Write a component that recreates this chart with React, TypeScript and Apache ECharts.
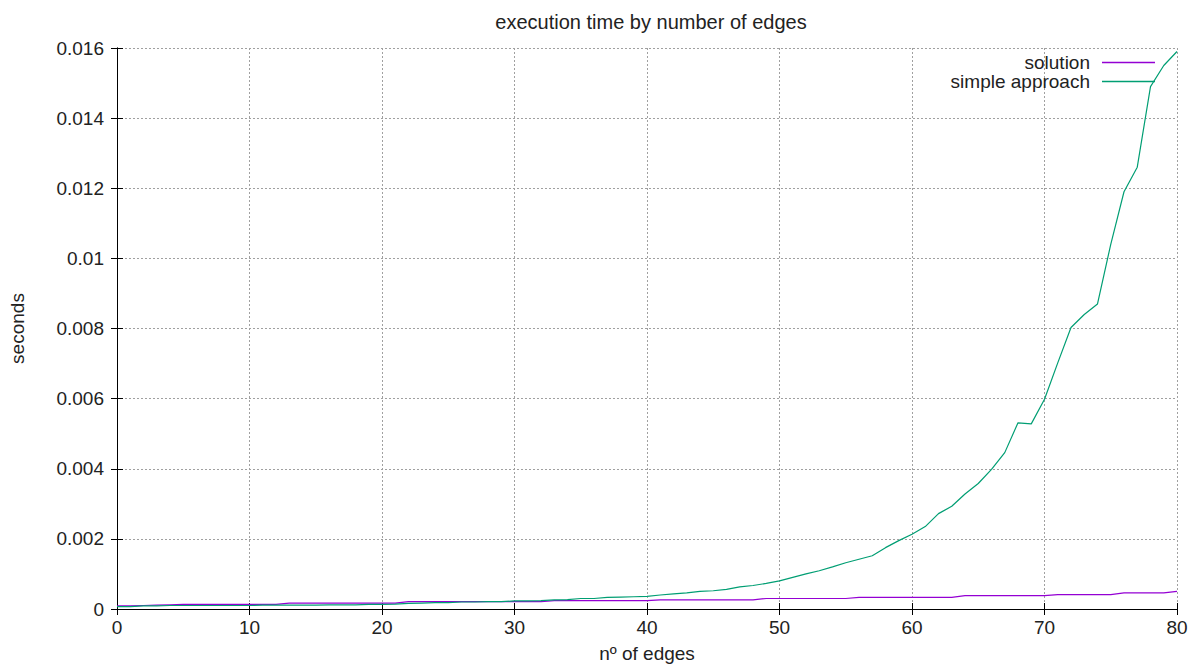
import React, { useEffect, useRef } from "react";
import * as echarts from "echarts";

const edges: number[] = [];
for (let i = 0; i <= 80; i++) edges.push(i);

const solution: number[] = [
  0.00009, 0.00009, 0.0001, 0.00011, 0.00012, 0.00013, 0.00013, 0.00013, 0.00013, 0.00013,
  0.00013, 0.00013, 0.00013, 0.00017, 0.00017, 0.00017, 0.00017, 0.00017, 0.00017, 0.00017,
  0.00017, 0.00017, 0.00021, 0.00021, 0.00021, 0.00021, 0.00021, 0.00021, 0.00021, 0.00021,
  0.00021, 0.00021, 0.00021, 0.00024, 0.00024, 0.00024, 0.00024, 0.00024, 0.00024, 0.00024,
  0.00024, 0.00026, 0.00026, 0.00026, 0.00026, 0.00026, 0.00026, 0.00026, 0.00026, 0.0003,
  0.0003, 0.0003, 0.0003, 0.0003, 0.0003, 0.0003, 0.00033, 0.00033, 0.00033, 0.00033,
  0.00033, 0.00033, 0.00033, 0.00033, 0.00038, 0.00038, 0.00038, 0.00038, 0.00038, 0.00038,
  0.00038, 0.00041, 0.00041, 0.00041, 0.00041, 0.00041, 0.00046, 0.00046, 0.00046, 0.00046,
  0.0005,
];

const simpleApproach: number[] = [
  0.00007, 0.00007, 0.00009, 0.00009, 0.0001, 0.0001, 0.0001, 0.0001, 0.0001, 0.0001,
  0.0001, 0.00011, 0.00011, 0.00011, 0.00011, 0.00011, 0.00012, 0.00012, 0.00012, 0.00013,
  0.00013, 0.00014, 0.00016, 0.00017, 0.00018, 0.00018, 0.0002, 0.0002, 0.00021, 0.00021,
  0.00023, 0.00023, 0.00024, 0.00026, 0.00027, 0.0003, 0.0003, 0.00033, 0.00034, 0.00035,
  0.00036, 0.0004, 0.00043, 0.00046, 0.0005, 0.00052, 0.00056, 0.00063, 0.00067, 0.00073,
  0.0008, 0.0009, 0.001, 0.00109, 0.0012, 0.00132, 0.00142, 0.00152, 0.00175, 0.00195,
  0.00213, 0.00235, 0.00272, 0.00293, 0.00328, 0.00358, 0.00398, 0.00446, 0.00531, 0.00528,
  0.00598, 0.00702, 0.00803, 0.0084, 0.0087, 0.0104, 0.0119, 0.0126, 0.0149, 0.0155,
  0.0159,
];

const seriesNames = ["solution", "simple approach"];
const colors = ["#9400d3", "#009e73"];

const FONT = "'Liberation Sans', Arial, sans-serif";
const TXT = "#222222";
const FS = 19;

export default function App() {
  const ref = useRef<HTMLDivElement>(null);
  useEffect(() => {
    if (!ref.current) return;
    const chart = echarts.init(ref.current, undefined, { renderer: "svg" });
    const tick = { show: true, inside: true, length: 6, lineStyle: { color: "#000" } };
    chart.setOption({
      animation: false,
      backgroundColor: "#fff",
      textStyle: { fontFamily: FONT },
      title: {
        text: "execution time by number of edges",
        left: 646,
        textAlign: "center",
        top: 7,
        textStyle: { fontFamily: FONT, fontSize: 20, fontWeight: "normal", color: TXT },
      },
      legend: {
        orient: "vertical",
        right: 40,
        top: 48,
        align: "right",
        icon: "rect",
        itemWidth: 53,
        itemHeight: 1.5,
        itemGap: 0,
        textStyle: { fontFamily: FONT, fontSize: FS, color: TXT, padding: [0, 7, 0, 0] },
        data: seriesNames,
      },
      grid: { left: 117, right: 23, top: 48, bottom: 58, containLabel: false },
      xAxis: [
        {
          type: "value",
          min: 0,
          max: 80,
          interval: 10,
          name: "nº of edges",
          nameLocation: "middle",
          nameGap: 35,
          nameTextStyle: { fontFamily: FONT, fontSize: FS, color: TXT },
          axisLine: { show: true, lineStyle: { color: "#000", width: 1 } },
          axisTick: tick,
          axisLabel: { fontFamily: FONT, fontSize: FS, color: TXT, margin: 9 },
          splitLine: { show: true, lineStyle: { color: "#a0a0a0", width: 1, type: [2, 2] } },
        },
        {
          type: "value",
          position: "top",
          min: 0,
          max: 80,
          interval: 10,
          axisLine: { show: true, lineStyle: { color: "#000", width: 1 } },
          axisTick: tick,
          axisLabel: { show: false },
          splitLine: { show: false },
        },
      ],
      yAxis: [
        {
          type: "value",
          min: 0,
          max: 0.016,
          interval: 0.002,
          name: "seconds",
          nameLocation: "middle",
          nameGap: 90,
          nameTextStyle: { fontFamily: FONT, fontSize: FS, color: TXT },
          axisLine: { show: true, lineStyle: { color: "#000", width: 1 } },
          axisTick: tick,
          axisLabel: { fontFamily: FONT, fontSize: FS, color: TXT, margin: 13 },
          splitLine: { show: true, lineStyle: { color: "#a0a0a0", width: 1, type: [2, 2] } },
        },
        {
          type: "value",
          position: "right",
          min: 0,
          max: 0.016,
          interval: 0.002,
          axisLine: { show: true, lineStyle: { color: "#000", width: 1 } },
          axisTick: tick,
          axisLabel: { show: false },
          splitLine: { show: false },
        },
      ],
      series: [
        {
          name: seriesNames[0],
          type: "line",
          symbol: "none",
          data: edges.map((x, i) => [x, solution[i]]),
          lineStyle: { color: colors[0], width: 1.2 },
          itemStyle: { color: colors[0] },
        },
        {
          name: seriesNames[1],
          type: "line",
          symbol: "none",
          data: edges.map((x, i) => [x, simpleApproach[i]]),
          lineStyle: { color: colors[1], width: 1.2 },
          itemStyle: { color: colors[1] },
        },
      ],
    });
    return () => chart.dispose();
  }, []);
  return <div ref={ref} style={{ width: 1200, height: 668, position: "absolute", left: 0, top: 0 }} />;
}
